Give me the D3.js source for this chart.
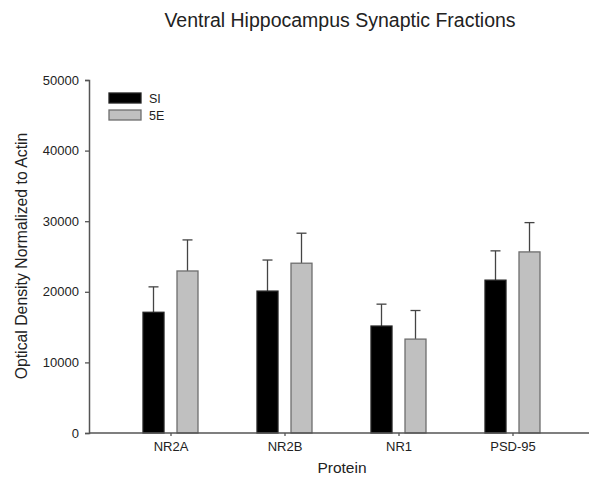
<!DOCTYPE html>
<html>
<head>
<meta charset="utf-8">
<script src="https://cdn.jsdelivr.net/npm/d3@7"></script>
<style>
  body { margin: 0; background: #fff; }
  text { font-family: "Liberation Sans", Arial, sans-serif; fill: #222; }
</style>
</head>
<body>
<div id="plot"></div>
<script>
// values
var proteins = ["NR2A", "NR2B", "NR1", "PSD-95"];
var groups = ["SI", "5E"];
var siMean = [17100, 20100, 15150, 21650];
var siErr = [3600, 4400, 3100, 4150];
var eMean = [22950, 24050, 13300, 25650];
var eErr = [4400, 4250, 4050, 4150];
var yTicks = [0, 10000, 20000, 30000, 40000, 50000];

var width = 590, height = 477;

var svg = d3.select("#plot")
  .append("svg")
    .attr("width", width)
    .attr("height", height);

var x = d3.scaleBand()
    .domain(proteins)
    .range([114, 570]);

var y = d3.scaleLinear()
    .domain([0, 50000])
    .range([433, 80]);

var color = d3.scaleOrdinal()
    .domain(groups)
    .range(["#000000", "#c0c0c0"]);
var stroke = d3.scaleOrdinal()
    .domain(groups)
    .range(["#222222", "#6e6e6e"]);

// offset of each bar from the category center
var offset = d3.scaleOrdinal().domain(groups).range([-28, 6]);
var barW = 21;

var rows = [];
proteins.forEach(function(p, i) {
  rows.push({protein: p, group: "SI", mean: siMean[i], err: siErr[i]});
  rows.push({protein: p, group: "5E", mean: eMean[i], err: eErr[i]});
});

// title
svg.append("text")
  .attr("x", 340)
  .attr("y", 26.5)
  .attr("text-anchor", "middle")
  .style("font-size", "19.5px")
  .text("Ventral Hippocampus Synaptic Fractions");

// error bars (drawn first so bars cover the stem)
var eb = svg.append("g")
  .selectAll("g")
  .data(rows)
  .enter()
  .append("g")
    .attr("stroke", "#444")
    .attr("stroke-width", 1.3);

eb.append("line")
  .attr("x1", d => x(d.protein) + x.bandwidth() / 2 + offset(d.group) + barW / 2)
  .attr("x2", d => x(d.protein) + x.bandwidth() / 2 + offset(d.group) + barW / 2)
  .attr("y1", d => y(d.mean))
  .attr("y2", d => y(d.mean + d.err));

eb.append("line")
  .attr("x1", d => x(d.protein) + x.bandwidth() / 2 + offset(d.group) + barW / 2 - 5)
  .attr("x2", d => x(d.protein) + x.bandwidth() / 2 + offset(d.group) + barW / 2 + 5)
  .attr("y1", d => y(d.mean + d.err))
  .attr("y2", d => y(d.mean + d.err));

// bars
svg.append("g")
  .selectAll("rect")
  .data(rows)
  .enter()
  .append("rect")
    .attr("x", d => x(d.protein) + x.bandwidth() / 2 + offset(d.group))
    .attr("y", d => y(d.mean))
    .attr("width", barW)
    .attr("height", d => y(0) - y(d.mean))
    .attr("fill", d => color(d.group))
    .attr("stroke", d => stroke(d.group))
    .attr("stroke-width", 1.3);

// y axis
var yAxis = svg.append("g")
  .attr("transform", "translate(89,0)")
  .call(d3.axisLeft(y).tickValues(yTicks).tickSize(4).tickPadding(6).tickFormat(d3.format("d")));
yAxis.select(".domain").attr("stroke", "#555").attr("stroke-width", 1.5);
yAxis.selectAll(".tick line").attr("stroke", "#555").attr("stroke-width", 1.3);
yAxis.selectAll(".tick text")
  .style("font-size", "13px")
  .style("font-family", "Liberation Sans, Arial, sans-serif")
  .attr("fill", "#222");

// x axis
var xAxis = svg.append("g")
  .attr("transform", "translate(0,433)")
  .call(d3.axisBottom(x).tickSize(3).tickSizeOuter(0).tickPadding(6));
xAxis.select(".domain").remove();
xAxis.append("line")
  .attr("x1", 89).attr("x2", 589)
  .attr("stroke", "#555").attr("stroke-width", 1.5);
xAxis.selectAll(".tick line").attr("stroke", "#555").attr("stroke-width", 1.3);
xAxis.selectAll(".tick text")
  .style("font-size", "13px")
  .style("font-family", "Liberation Sans, Arial, sans-serif")
  .attr("fill", "#222");

// axis labels
svg.append("text")
  .attr("x", 342)
  .attr("y", 473)
  .attr("text-anchor", "middle")
  .style("font-size", "15.5px")
  .text("Protein");

svg.append("text")
  .attr("transform", "translate(27,256) rotate(-90)")
  .attr("text-anchor", "middle")
  .style("font-size", "15.8px")
  .text("Optical Density Normalized to Actin");

// legend
var legend = svg.append("g")
  .selectAll("g")
  .data(groups)
  .enter()
  .append("g")
    .attr("transform", (d, i) => "translate(109," + (93 + i * 17) + ")");

legend.append("rect")
  .attr("width", 32)
  .attr("height", 10)
  .attr("fill", d => color(d))
  .attr("stroke", d => stroke(d))
  .attr("stroke-width", 1.3);

legend.append("text")
  .attr("x", 40)
  .attr("y", 9.5)
  .style("font-size", "12.5px")
  .text(d => d);
</script>
</body>
</html>
